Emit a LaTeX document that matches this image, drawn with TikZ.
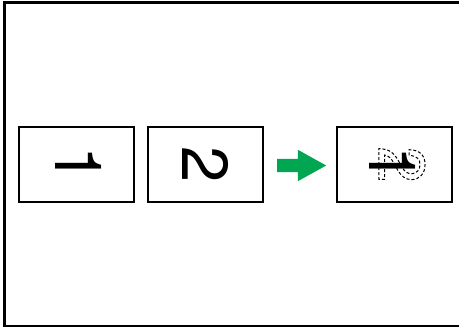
\documentclass[tikz,border=0pt]{standalone}
\usepackage{fontspec}
\newfontfamily\digitfont{TeX Gyre Heros}
\usetikzlibrary{shapes.arrows}
\definecolor{arrowgreen}{RGB}{0,166,81}
\newcommand{\ghostdigit}[1]{\special{pdf:literal direct 1 Tr [3 2] 0 d 1 w}#1\special{pdf:literal direct 0 Tr [] 0 d}}

\begin{document}
\begin{tikzpicture}[x=1pt, y=-1pt,
	frame/.style={draw, line width=2pt, minimum width=115pt, minimum height=75pt, inner sep=0pt},
	digit/.style={font=\digitfont\fontsize{65}{65}\selectfont, rotate=-90, inner sep=0pt}]
	\useasboundingbox (0,0) rectangle (459,328);
	\draw[line width=2.2pt] (462,2.5) -- (4.5,2.5) -- (4.5,326) -- (462,326);
	\node[frame] (box1) at (76.5,164.5) {};
	\node[frame] (box2) at (205.5,164.5) {};
	\node[frame] (box3) at (394.5,164.5) {};
	\node[digit] (one) at (79,164.5) {1};
	\node[digit] (two) at (box2.center) {2};
	\node[digit] (ghost) at (402,164.5) {\ghostdigit{2}};
	\node[digit] (onetoo) at (392.5,164.5) {1};
	\node[single arrow, fill=arrowgreen, inner xsep=0pt, inner ysep=6.5pt, minimum height=49pt, minimum width=31pt, single arrow head extend=9pt, single arrow tip angle=58, anchor=tail] (arrow) at (277,165.5) {};
\end{tikzpicture}
\end{document}
